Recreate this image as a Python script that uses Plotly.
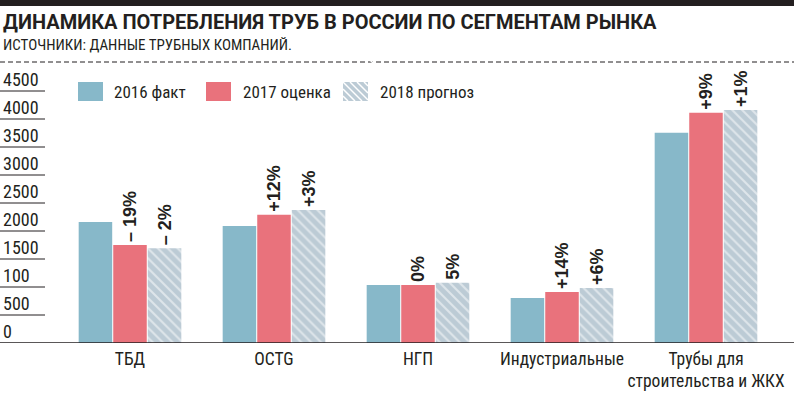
import plotly.graph_objects as go

categories = ["ТБД", "OCTG", "НГП", "Индустриальные", "Трубы для<br>строительства и ЖКХ"]
series_names = ["2016 факт", "2017 оценка", "2018 прогноз"]
v2016 = [2160, 2090, 1035, 805, 3755]
v2017 = [1750, 2290, 1035, 910, 4110]
v2018 = [1690, 2375, 1075, 980, 4160]
lbl2017 = ["– 19%", "+12%", "0%", "+14%", "+9%"]
lbl2018 = ["– 2%", "+3%", "5%", "+6%", "+1%"]
y_tick_vals = [0, 500, 1000, 1500, 2000, 2500, 3000, 3500, 4000, 4500]
y_tick_text = ["0", "500", "100", "1500", "2000", "2500", "3000", "3500", "4000", "4500"]

W, H = 794, 395
T, B = 0, 52
PH = H - T - B  # plot height in px
BASE = H - B
YMAX = PH / 0.056

NARROW = "Roboto Condensed, DejaVu Sans Condensed, sans-serif"
BOLD = "Liberation Sans, Arial, sans-serif"
TXT = "#231f20"
C16, C17, C18 = "#87b8c9", "#e9727c", "#bccbd5"


def py(p):
    return (BASE - p) / PH


def px(p):
    return p / W


fig = go.Figure()
fig.add_bar(x=categories, y=v2016, name=series_names[0], marker=dict(color=C16, line=dict(width=0)))
fig.add_bar(x=categories, y=v2017, name=series_names[1], marker=dict(color=C17, line=dict(width=0)),
            text=lbl2017, textposition="outside", textangle=-90,
            textfont=dict(family=BOLD, size=18, color=TXT, weight=700), cliponaxis=False, constraintext="none")
fig.add_bar(x=categories, y=v2018, name=series_names[2],
            marker=dict(color=C18, line=dict(width=0),
                        pattern=dict(shape="\\", fgcolor="white", size=7, solidity=0.3)),
            text=lbl2018, textposition="outside", textangle=-90,
            textfont=dict(family=BOLD, size=18, color=TXT, weight=700), cliponaxis=False, constraintext="none")

shapes = []
annotations = []
# top black bar
shapes.append(dict(type="rect", xref="paper", yref="paper", x0=0, x1=1, y0=py(6), y1=1,
                   fillcolor="#231f20", line=dict(width=0), layer="above"))
# dashed line
shapes.append(dict(type="line", xref="paper", yref="paper", x0=0, x1=1, y0=py(62), y1=py(62),
                   line=dict(color=TXT, width=1, dash="5px,3px")))
# y ticks: short lines + labels
for v, t in zip(y_tick_vals, y_tick_text):
    shapes.append(dict(type="line", xref="paper", yref="y", x0=0, x1=(1 if v == 0 else px(45)),
                       y0=v, y1=v, line=dict(color=TXT, width=(1.5 if v == 0 else 1)), layer="above"))
    annotations.append(dict(xref="paper", yref="y", x=px(1), y=v, xanchor="left", yanchor="bottom",
                            text=t, showarrow=False, yshift=-1,
                            font=dict(family=NARROW, size=18, color=TXT)))

# legend
leg = [(78, C16, None, 112, series_names[0]), (206, C17, None, 241, series_names[1]),
       (343, C18, True, 378, series_names[2])]
for x0, col, hatch, tx, name in leg:
    shapes.append(dict(type="rect", xref="paper", yref="paper", x0=px(x0), x1=px(x0 + 25),
                       y0=py(101), y1=py(82), fillcolor=col, line=dict(width=0)))
    if hatch:
        for k in range(-3, 8):
            a = x0 + k * 7
            shapes.append(dict(type="line", xref="paper", yref="paper",
                               x0=px(max(a, x0)), y0=py(82 + max(0, x0 - a)),
                               x1=px(min(a + 19, x0 + 25)), y1=py(82 + min(19, x0 + 25 - a)),
                               line=dict(color="white", width=1.5)))
    annotations.append(dict(xref="paper", yref="paper", x=px(tx), y=py(91.5), xanchor="left",
                            yanchor="middle", text=name, showarrow=False,
                            font=dict(family=NARROW, size=17, color=TXT)))

# title and subtitle
annotations.append(dict(xref="paper", yref="paper", x=px(1), y=py(21.5), xanchor="left", yanchor="middle",
                        text="<b>ДИНАМИКА ПОТРЕБЛЕНИЯ ТРУБ В РОССИИ ПО СЕГМЕНТАМ РЫНКА</b>",
                        showarrow=False, font=dict(family="Roboto, Liberation Sans, sans-serif", size=20, color=TXT)))
annotations.append(dict(xref="paper", yref="paper", x=px(1), y=py(45), xanchor="left", yanchor="middle",
                        text="ИСТОЧНИКИ: ДАННЫЕ ТРУБНЫХ КОМПАНИЙ.",
                        showarrow=False, font=dict(family=NARROW, size=15, color=TXT)))

fig.update_layout(
    width=W, height=H,
    margin=dict(l=0, r=0, t=T, b=B, pad=0),
    paper_bgcolor="white", plot_bgcolor="white",
    barmode="group", bargap=0.28, bargroupgap=0.03,
    showlegend=False,
    xaxis=dict(domain=[px(58), px(778)], range=[-0.5, 4.5], showgrid=False, showline=False,
               zeroline=False, ticks="", tickfont=dict(family=NARROW, size=17.5, color=TXT),
               ticklabelstandoff=3, tickangle=0, automargin=False),
    yaxis=dict(range=[0, YMAX], showgrid=False, showline=False, zeroline=False,
               showticklabels=False, automargin=False),
    shapes=shapes, annotations=annotations,
)
fig.write_html("out.html", config={"displayModeBar": False},
               post_script="document.body.style.margin='0';document.body.style.padding='0';")
